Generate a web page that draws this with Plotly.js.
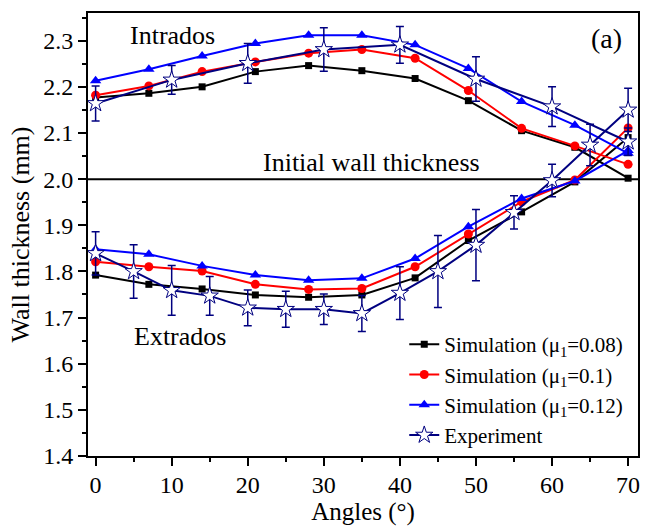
<!DOCTYPE html>
<html>
<head>
<meta charset="utf-8">
<script src="https://cdn.plot.ly/plotly-3.0.1.min.js"></script>
<style>html,body{margin:0;padding:0;background:#fff;}#chart{width:646px;height:526px;}</style>
</head>
<body>
<div id="chart"></div>
<script>
// ---- data ----
const simAngles = [0, 7, 14, 21, 28, 35, 42, 49, 56, 63, 70];
const sim008Intrados = [2.177, 2.186, 2.200, 2.233, 2.246, 2.235, 2.218, 2.170, 2.105, 2.069, 2.002];
const sim008Extrados = [1.792, 1.772, 1.762, 1.749, 1.744, 1.749, 1.786, 1.867, 1.929, 1.994, 2.090];
const sim010Intrados = [2.182, 2.202, 2.233, 2.254, 2.273, 2.281, 2.262, 2.192, 2.110, 2.072, 2.032];
const sim010Extrados = [1.821, 1.810, 1.801, 1.772, 1.761, 1.763, 1.810, 1.881, 1.951, 1.998, 2.111];
const sim012Intrados = [2.213, 2.238, 2.267, 2.294, 2.312, 2.312, 2.291, 2.240, 2.168, 2.117, 2.056];
const sim012Extrados = [1.848, 1.837, 1.812, 1.792, 1.781, 1.785, 1.828, 1.897, 1.958, 1.996, 2.062];

const expIntradosAngles = [0, 10, 20, 30, 40, 50, 60, 70];
const expIntrados = [2.164, 2.215, 2.251, 2.281, 2.291, 2.217, 2.157, 2.081];
const expIntradosErr = [0.038, 0.031, 0.043, 0.047, 0.040, 0.048, 0.043, 0.030];
const expExtradosAngles = [0, 5, 10, 15, 20, 25, 30, 35, 40, 45, 50, 55, 60, 65, 70];
const expExtrados = [1.839, 1.800, 1.759, 1.747, 1.721, 1.718, 1.718, 1.709, 1.753, 1.800, 1.857, 1.928, 1.997, 2.074, 2.150];
const expExtradosErr = [0.047, 0.058, 0.054, 0.042, 0.039, 0.039, 0.033, 0.039, 0.057, 0.078, 0.077, 0.036, 0.035, 0.045, 0.047];

const seriesNames = ['Simulation (μ<sub>1</sub>=0.08)', 'Simulation (μ<sub>1</sub>=0.1)', 'Simulation (μ<sub>1</sub>=0.12)', 'Experiment'];
const initialThickness = 2.0;
const xTickVals = [0, 10, 20, 30, 40, 50, 60, 70];
const yTickVals = [1.4, 1.5, 1.6, 1.7, 1.8, 1.9, 2.0, 2.1, 2.2, 2.3];

// ---- build traces ----
const FONT = 'Liberation Serif, Times New Roman, serif';
function joinBranches(a, b) { return a.concat([null], b); }

function simTrace(name, up, low, color, symbol, size) {
  return {
    type: 'scatter', mode: 'lines+markers', name: name,
    x: joinBranches(simAngles, simAngles),
    y: joinBranches(up, low),
    connectgaps: false,
    line: {color: color, width: 2},
    marker: {color: color, symbol: symbol, size: size}
  };
}

const traces = [
  simTrace(seriesNames[0], sim008Intrados, sim008Extrados, '#000000', 'square', 7),
  simTrace(seriesNames[1], sim010Intrados, sim010Extrados, '#ff0000', 'circle', 9),
  simTrace(seriesNames[2], sim012Intrados, sim012Extrados, '#0000ff', 'triangle-up', 10),
  {
    type: 'scatter', mode: 'lines+markers', name: seriesNames[3],
    x: joinBranches(expIntradosAngles, expExtradosAngles),
    y: joinBranches(expIntrados, expExtrados),
    connectgaps: false,
    line: {color: '#000080', width: 2},
    marker: {color: '#ffffff', symbol: 'star', size: 13, line: {color: '#000080', width: 1}},
    error_y: {type: 'data', array: joinBranches(expIntradosErr, expExtradosErr), visible: true,
              color: '#000080', thickness: 1.5, width: 4}
  }
];

const axisCommon = {
  showgrid: false, zeroline: false,
  showline: true, linecolor: '#000', linewidth: 2, mirror: true,
  ticks: 'outside', ticklen: 8, tickwidth: 2, tickcolor: '#000',
  tickfont: {family: FONT, size: 24, color: '#000'}
};

const layout = {
  width: 646, height: 526,
  margin: {l: 88, r: 8, t: 13, b: 70},
  paper_bgcolor: '#fff', plot_bgcolor: '#fff',
  font: {family: FONT, color: '#000'},
  showlegend: true,
  legend: {x: 0.575, xanchor: 'left', y: 0.0, yanchor: 'bottom',
           bgcolor: 'rgba(0,0,0,0)', borderwidth: 0,
           font: {family: FONT, size: 21, color: '#000'}},
  xaxis: Object.assign({}, axisCommon, {
    range: [-1, 71.3], tickvals: xTickVals, ticklabelstandoff: -2,
    minor: {dtick: 5, tick0: 0, ticks: 'outside', ticklen: 4, tickwidth: 2, tickcolor: '#000'},
    title: {text: 'Angles (°)', font: {family: FONT, size: 25, color: '#000'}, standoff: 3}
  }),
  yaxis: Object.assign({}, axisCommon, {
    range: [1.4, 2.36], tickvals: yTickVals, tickformat: '.1f',
    minor: {dtick: 0.05, tick0: 1.4, ticks: 'outside', ticklen: 4, tickwidth: 2, tickcolor: '#000'},
    title: {text: 'Wall thickness (mm)', font: {family: FONT, size: 26, color: '#000'}, standoff: 6}
  }),
  shapes: [{type: 'line', xref: 'paper', x0: 0, x1: 1, yref: 'y', y0: initialThickness, y1: initialThickness,
            line: {color: '#000', width: 2}, layer: 'below'}],
  annotations: [
    {text: 'Intrados', x: 4.2, y: 2.312, xref: 'x', yref: 'y', xanchor: 'left', yanchor: 'middle', showarrow: false,
     font: {family: FONT, size: 26, color: '#000'}},
    {text: 'Initial wall thickness', x: 36.3, y: 2.035, xref: 'x', yref: 'y', xanchor: 'center', yanchor: 'middle', showarrow: false,
     font: {family: FONT, size: 26, color: '#000'}},
    {text: 'Extrados', x: 4.8, y: 1.658, xref: 'x', yref: 'y', xanchor: 'left', yanchor: 'middle', showarrow: false,
     font: {family: FONT, size: 26, color: '#000'}},
    {text: '(a)', x: 67.1, y: 2.304, xref: 'x', yref: 'y', xanchor: 'center', yanchor: 'middle', showarrow: false,
     font: {family: FONT, size: 28, color: '#000'}}
  ]
};

Plotly.newPlot('chart', traces, layout, {displayModeBar: false, staticPlot: true});
</script>
</body>
</html>
